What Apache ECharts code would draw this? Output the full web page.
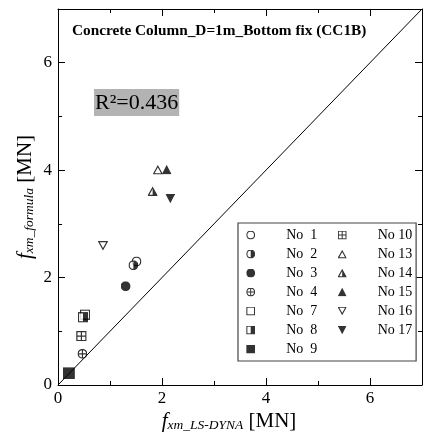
<!DOCTYPE html>
<html>
<head>
<meta charset="utf-8">
<script src="https://cdn.jsdelivr.net/npm/echarts@6/dist/echarts.min.js"></script>
<style>
  html, body { margin: 0; padding: 0; background: #fff; }
  #chart { width: 425px; height: 437px; }
</style>
</head>
<body>
<div id="chart"></div>
<script>
// Specimen names, LS-DYNA results (x) and formula estimates (y), in MN
const seriesNames = ['No 1', 'No 2', 'No 3', 'No 4', 'No 7', 'No 8', 'No 9',
                     'No 10', 'No 13', 'No 14', 'No 15', 'No 16', 'No 17'];
const dynaValues = [1.51, 1.45, 1.30, 0.47, 0.52, 0.48, 0.21,
                    0.45, 1.92, 1.82, 2.09, 0.865, 2.16];
const formulaValues = [2.30, 2.23, 1.84, 0.58, 1.31, 1.26, 0.22,
                       0.91, 4.01, 3.61, 4.01, 2.59, 3.47];
const markerKinds = ['circleOpen', 'circleHalf', 'circleFill', 'circlePlus',
                     'squareOpen', 'squareHalf', 'squareFill', 'squarePlus',
                     'triUpOpen', 'triUpHalf', 'triUpFill', 'triDownOpen', 'triDownFill'];
const legendColumnA = seriesNames.slice(0, 7);
const legendColumnB = seriesNames.slice(7);
const tickValues = [0, 2, 4, 6];
const axisRange = [0, 7];
const equalityLine = [0, 7];

const serif = 'Liberation Serif, Times New Roman, serif';

// Marker glyphs drawn as small SVG images (white interiors, black ink)
const ring = "<circle cx='10' cy='10' r='8.6' fill='#fff' stroke='#000' stroke-width='2.6'/>";
const box = "<rect x='1.3' y='1.3' width='17.4' height='17.4' fill='#fff' stroke='#000' stroke-width='2.6'/>";
const triUp = "<polygon points='10,3.2 18.6,18.6 1.4,18.6' fill='#fff' stroke='#000' stroke-width='2.4'/>";
const svgShapes = {
  circleOpen: ring,
  circleHalf: ring + "<path d='M10 1.4 A8.6 8.6 0 0 1 10 18.6 Z' fill='#000'/>",
  circleFill: "<circle cx='10' cy='10' r='9.9' fill='#000'/>",
  circlePlus: ring + "<path d='M10 1.4 V18.6 M1.4 10 H18.6' stroke='#000' stroke-width='2.2'/>",
  squareOpen: box,
  squareHalf: box + "<rect x='10' y='1.3' width='8.7' height='17.4' fill='#000'/>",
  squareFill: "<rect x='0' y='0' width='20' height='20' fill='#000'/>",
  squarePlus: box + "<path d='M10 1.3 V18.7 M1.3 10 H18.7' stroke='#000' stroke-width='2.2'/>",
  triUpOpen: triUp,
  triUpHalf: triUp + "<polygon points='10,3.2 18.6,18.6 10,18.6' fill='#000'/>",
  triUpFill: "<polygon points='10,0.5 19.8,19.5 0.2,19.5' fill='#000'/>",
  triDownOpen: "<polygon points='1.4,1.4 18.6,1.4 10,16.8' fill='#fff' stroke='#000' stroke-width='2.4'/>",
  triDownFill: "<polygon points='0.2,0.5 19.8,0.5 10,19.5' fill='#000'/>"
};
const markerSizes = {
  circleOpen: 10, circleHalf: 10, circleFill: 10, circlePlus: 10,
  squareOpen: 10.5, squareHalf: 10.5, squareFill: 12, squarePlus: 10.5,
  triUpOpen: 10, triUpHalf: 10, triUpFill: 10, triDownOpen: 10, triDownFill: 10
};
function markerUri(kind) {
  const svg = "<svg xmlns='http://www.w3.org/2000/svg' width='20' height='20' viewBox='0 0 20 20'>" +
              svgShapes[kind] + "</svg>";
  return 'image://data:image/svg+xml;charset=utf-8,' + encodeURIComponent(svg);
}

const black = { color: '#000', width: 1 };
const tickLabel = v => (tickValues.includes(v) ? String(v) : '');

function makeAxis(position, interval, tickLen, opts) {
  return Object.assign({
    type: 'value', position: position, min: axisRange[0], max: axisRange[1], interval: interval,
    axisLine: { show: true, onZero: false, lineStyle: black },
    axisTick: { show: true, inside: true, length: tickLen, lineStyle: black },
    axisLabel: { show: false },
    splitLine: { show: false }
  }, opts || {});
}

const axisLabelStyle = {
  show: true, color: '#000', fontFamily: serif, fontSize: 17, formatter: tickLabel
};
const nameRich = {
  f: { fontFamily: serif, fontStyle: 'italic', fontSize: 21, color: '#000' },
  s: { fontFamily: serif, fontStyle: 'italic', fontSize: 13.5, color: '#000',
       verticalAlign: 'bottom', lineHeight: 15 },
  u: { fontFamily: serif, fontSize: 21, color: '#000' }
};

const scatterSeries = seriesNames.map((name, i) => ({
  type: 'scatter',
  name: name,
  xAxisIndex: 0,
  yAxisIndex: 0,
  data: [[dynaValues[i], formulaValues[i]]],
  symbol: markerUri(markerKinds[i]),
  symbolSize: markerSizes[markerKinds[i]],
  z: 3,
  emphasis: { disabled: true },
  silent: true
}));

// Two legend columns sharing one framed box
const legendCommon = {
  orient: 'vertical',
  top: 223,
  itemWidth: 9, itemHeight: 9, itemGap: 5,
  selectedMode: false,
  formatter: name => name.replace(/^No (\d)$/, 'No\u2007$1'),
  textStyle: { fontFamily: serif, fontSize: 14, color: '#000', padding: [0, 0, 0, 26] }
};

const chart = echarts.init(document.getElementById('chart'), null, { renderer: 'canvas' });
chart.setOption({
  animation: false,
  backgroundColor: '#fff',
  title: [
    {
      text: 'Concrete Column_D=1m_Bottom fix (CC1B)',
      left: 72, top: 24, padding: 0,
      textStyle: { fontFamily: serif, fontWeight: 'bold', fontSize: 15.3, color: '#000' }
    },
    {
      text: 'R²=0.436',
      left: 94, top: 89, padding: [3, 1, 1, 1],
      backgroundColor: '#b3b3b3',
      textStyle: { fontFamily: serif, fontWeight: 'normal', fontSize: 22, color: '#000', lineHeight: 23 }
    }
  ],
  grid: { left: 58, top: 9, width: 370, height: 377, containLabel: false },
  legend: [
    Object.assign({}, legendCommon, {
      left: 238,
      padding: [5, 98.8, 5, 8.2],
      borderColor: '#444', borderWidth: 1.2,
      backgroundColor: '#fff',
      z: 4,
      data: legendColumnA
    }),
    Object.assign({}, legendCommon, {
      left: 337.7,
      padding: [5, 0, 5, 0],
      z: 5,
      data: legendColumnB
    })
  ],
  xAxis: [
    makeAxis('bottom', 2, 7, {
      axisLabel: Object.assign({ margin: 5 }, axisLabelStyle),
      name: '{f|f}{s|xm_LS-DYNA}{u| [MN]}',
      nameLocation: 'middle', nameGap: 26, nameMoveOverlap: false,
      nameTextStyle: { rich: nameRich, padding: [0, 22, 0, 0] }
    }),
    makeAxis('bottom', 1, 4, { axisLine: { show: false, onZero: false } }),
    makeAxis('top', 2, 7),
    makeAxis('top', 1, 4, { axisLine: { show: false, onZero: false } })
  ],
  yAxis: [
    makeAxis('left', 2, 7, {
      axisLabel: Object.assign({ margin: 6 }, axisLabelStyle),
      name: '{f|f}{s|xm_formula}{u| [MN]}',
      nameLocation: 'middle', nameGap: 22, nameMoveOverlap: false,
      nameTextStyle: { rich: nameRich }
    }),
    makeAxis('left', 1, 4, { axisLine: { show: false, onZero: false } }),
    makeAxis('right', 2, 7),
    makeAxis('right', 1, 4, { axisLine: { show: false, onZero: false } })
  ],
  series: [
    {
      type: 'line',
      xAxisIndex: 0, yAxisIndex: 0,
      data: equalityLine.map(v => [v, v]),
      symbol: 'none',
      lineStyle: { color: '#000', width: 1 },
      z: 2, silent: true
    }
  ].concat(scatterSeries)
});
</script>
</body>
</html>
